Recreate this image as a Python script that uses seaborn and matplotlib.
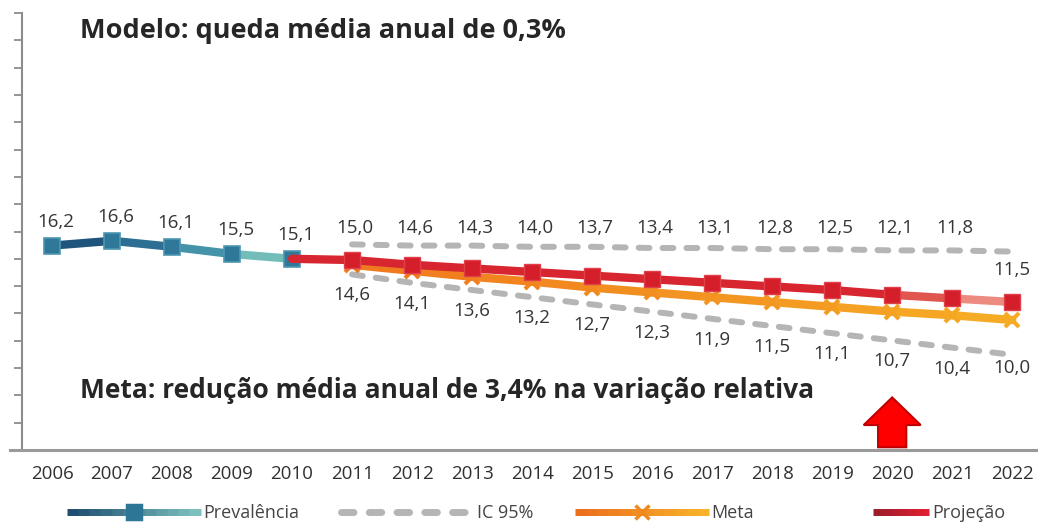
import numpy as np
import pandas as pd
import seaborn as sns
import matplotlib.pyplot as plt
from matplotlib.lines import Line2D
from matplotlib.legend_handler import HandlerBase
from matplotlib.patches import FancyArrow

# dados
anos = list(range(2006, 2023))
anos_prev = [2006, 2007, 2008, 2009, 2010]
prevalencia = [16.2, 16.6, 16.1, 15.5, 15.1]
anos_proj = list(range(2010, 2023))
projecao = [15.1, 15.0, 14.6, 14.3, 14.0, 13.7, 13.4, 13.1, 12.8, 12.5, 12.1, 11.8, 11.5]
anos_meta = list(range(2011, 2023))
meta = [14.6, 14.1, 13.6, 13.2, 12.7, 12.3, 11.9, 11.5, 11.1, 10.7, 10.4, 10.0]
ic_sup = [16.3, 16.2, 16.2, 16.1, 16.1, 16.0, 16.0, 15.9, 15.9, 15.8, 15.8, 15.7]
ic_inf = [13.8, 13.1, 12.5, 11.9, 11.3, 10.7, 10.1, 9.5, 8.9, 8.3, 7.7, 7.1]

def fmt(v):
    return f"{v:.1f}".replace(".", ",")

sns.set_style("white")
plt.rcParams['font.family'] = ['Open Sans', 'DejaVu Sans']

fig = plt.figure(figsize=(10.38, 5.26), dpi=100)
ax = fig.add_axes([22 / 1038, 76 / 526, 1016 / 1038, 437 / 526])

df_ic = pd.DataFrame({'ano': anos_meta * 2, 'valor': ic_sup + ic_inf,
                      'lim': ['sup'] * 12 + ['inf'] * 12})
for lim, d in df_ic.groupby('lim'):
    sns.lineplot(data=d, x='ano', y='valor', ax=ax, color='#b5b5b5', lw=4.3,
                 dashes=False, zorder=2)
for l in ax.lines:
    l.set_dashes((1.8, 2.2))
    l.set_dash_capstyle('round')

# prevalencia com gradiente azul
cores_prev = ['#1f557c', '#2c6f92', '#4593a8', '#72bdb9']
for i in range(len(anos_prev) - 1):
    ax.plot(anos_prev[i:i + 2], prevalencia[i:i + 2], color=cores_prev[i], lw=6,
            solid_capstyle='butt', zorder=3)
sns.lineplot(x=anos_prev, y=prevalencia, ax=ax, lw=0, marker='s', markersize=11,
             color='#2f7899', markeredgecolor='#4e97b2', markeredgewidth=1.2, zorder=4)

# meta com gradiente laranja
cores_meta = sns.blend_palette(['#f07a1e', '#f6ab24'], len(anos_meta) - 1)
for i in range(len(anos_meta) - 1):
    ax.plot(anos_meta[i:i + 2], meta[i:i + 2], color=cores_meta[i], lw=6,
            solid_capstyle='round', zorder=3)
for a, v, c in zip(anos_meta, meta, [cores_meta[0]] + list(cores_meta)):
    ax.plot([a], [v], lw=0, marker='x', markersize=10, color=c,
            markeredgecolor=c, markeredgewidth=3, zorder=4)

# projecao
cores_proj = ['#d7262f'] * 10 + ['#e0564f', '#ee8b80']
for i in range(len(anos_proj) - 1):
    ax.plot(anos_proj[i:i + 2], projecao[i:i + 2], color=cores_proj[i], lw=6,
            solid_capstyle='round', zorder=5)
sns.lineplot(x=anos_proj[1:], y=projecao[1:], ax=ax, lw=0, marker='s', markersize=11,
             color='#d41f2b', markeredgecolor='#e0404a', markeredgewidth=1, zorder=6)

cor_txt = '#353535'
tam = 13.5
for a, v in zip(anos_prev, prevalencia):
    ax.annotate(fmt(v), (a, v), xytext=(4, 24), textcoords='offset pixels',
                ha='center', va='center', fontsize=tam, color=cor_txt)
for a, v in zip(anos_proj[1:-1], projecao[1:-1]):
    ax.text(a + 0.05, 17.65, fmt(v), ha='center', va='center', fontsize=tam, color=cor_txt)
ax.annotate(fmt(projecao[-1]), (anos_proj[-1], projecao[-1]), xytext=(0, 32),
            textcoords='offset pixels', ha='center', va='center', fontsize=tam, color=cor_txt)
for a, v, li in zip(anos_meta, meta, ic_inf):
    off = -13 if a == 2022 else -21
    ax.annotate(fmt(v), (a, li), xytext=(0, off), textcoords='offset pixels',
                ha='center', va='center', fontsize=tam, color=cor_txt)

ax.add_patch(FancyArrow(2020, -0.6, 0, 4.15, width=0.47, head_width=0.95,
                        head_length=2.3, length_includes_head=True,
                        facecolor='#ff0000', edgecolor='#c00000', lw=1.5,
                        clip_on=False, zorder=7))

ax.set_xlim(2005.5, 2022.43)
ax.set_ylim(-0.83, 35.58)
ax.set_xticks(anos)
ax.set_xticklabels([str(a) for a in anos], fontsize=13.5, color='#303030')
ax.set_yticks(np.linspace(-0.83, 35.58, 17))
ax.set_yticklabels([])
ax.set_xlabel('')
ax.set_ylabel('')
ax.tick_params(axis='x', length=0, pad=11)
ax.tick_params(axis='y', left=True, direction='out', length=6, width=1.3, color='#8c8c8c')
sns.despine(ax=ax, top=True, right=True)
ax.spines['left'].set_color('#8c8c8c')
ax.spines['left'].set_linewidth(1.5)
ax.spines['bottom'].set_color('#9a9a9a')
ax.spines['bottom'].set_linewidth(2.2)
ax.spines['bottom'].set_bounds(2005.3, 2022.43)

fig.text(80 / 1038, 1 - 31 / 526, 'Modelo: queda média anual de 0,3%', fontsize=19.5,
         fontweight='bold', color='#262626', va='center', ha='left')
fig.text(80 / 1038, 1 - 390 / 526, 'Meta: redução média anual de 3,4% na variação relativa',
         fontsize=19, fontweight='bold', color='#262626', va='center', ha='left')


class HandlerGradiente(HandlerBase):
    def __init__(self, cores, marker=None, mcolor=None, frac=0.0, dashed=False):
        super().__init__()
        self.cores, self.marker, self.mcolor = cores, marker, mcolor
        self.frac, self.dashed = frac, dashed

    def create_artists(self, legend, orig_handle, xdescent, ydescent, width,
                       height, fontsize, trans):
        x0 = -xdescent + width * self.frac
        x1 = -xdescent + width
        y = height / 2 - ydescent
        xs = np.linspace(x0, x1, len(self.cores) + 1)
        passo = xs[1] - xs[0]
        arts = []
        for i, c in enumerate(self.cores):
            fim = xs[i + 1] + (passo * 0.4 if i < len(self.cores) - 1 else 0)
            ln = Line2D([xs[i], fim], [y, y], color=c, lw=5,
                        solid_capstyle='butt', transform=trans)
            if self.dashed:
                ln.set_dashes((1.8, 2.2))
                ln.set_dash_capstyle('round')
            arts.append(ln)
        if self.marker:
            arts.append(Line2D([(x0 + x1) / 2], [y], marker=self.marker, color=self.mcolor,
                               markeredgecolor=self.mcolor, markersize=10,
                               markeredgewidth=2.5, lw=0, transform=trans))
        return arts


h_prev, h_ic, h_meta, h_proj = [Line2D([], []) for _ in range(4)]
fig.legend([h_prev, h_ic, h_meta, h_proj], ['Prevalência', 'IC 95%', 'Meta', 'Projeção'],
           handler_map={
               h_prev: HandlerGradiente(sns.blend_palette(['#1e4d70', '#7cc0be'], 12), 's', '#2d7696'),
               h_ic: HandlerGradiente(['#b5b5b5'], dashed=True),
               h_meta: HandlerGradiente(sns.blend_palette(['#ec6f1c', '#f7b12a'], 12), 'x', '#f08a20'),
               h_proj: HandlerGradiente(sns.blend_palette(['#9c1c2c', '#e02030'], 8), frac=0.58),
           },
           loc='center', bbox_to_anchor=(536 / 1038, 1 - 513 / 526), ncol=4, frameon=False,
           fontsize=13, handlelength=7.4, handletextpad=0.15, columnspacing=2.3,
           labelcolor='#444444')

fig.savefig('out.png', dpi=100)
